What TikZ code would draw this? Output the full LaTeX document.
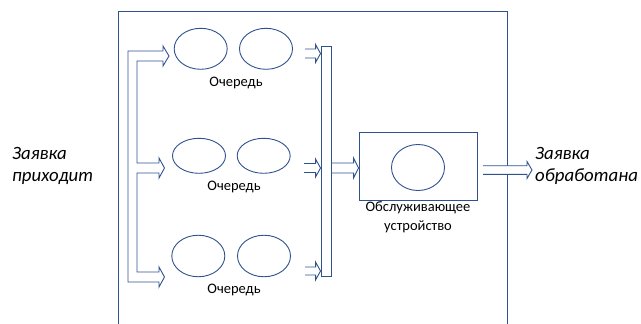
\documentclass[tikz,border=0pt]{standalone}
\usepackage{fontspec}
\setmainfont{Carlito}
\usetikzlibrary{calc,shapes.geometric}
\definecolor{lineblue}{HTML}{2F528F}
\tikzset{
  bl/.style={draw=lineblue, line width=0.9pt, line join=miter},
  qell/.style={bl, ellipse, inner sep=0pt, minimum width=53pt},
  lbl/.style={font=\fontsize{14.5}{19}\selectfont, inner sep=0pt, align=center},
  side/.style={font=\fontsize{18.8}{21.5}\selectfont\itshape, inner sep=0pt, align=left, anchor=west},
}
\newcommand\harrow[5][]{%
  \draw[bl,#1] let \p1=(#2), \p2=(#3) in
    (\x1,\y2+#4) -- (\x2-5pt,\y2+#4) -- (\x2-5pt,\y2+#5) -- (\x2,\y2)
    -- (\x2-5pt,\y2-#5) -- (\x2-5pt,\y2-#4) -- (\x1,\y2-#4);}
\begin{document}
\begin{tikzpicture}[x=1pt,y=-1pt]
\useasboundingbox (0,0) rectangle (641,324);
% outer frame (open at the bottom)
\draw[bl] (118,326) -- (118,11.5) -- (507,11.5) -- (507,326);
% queue ellipses
\node[qell, minimum height=41pt] (a1) at (200.7,48.8) {};
\node[qell, minimum height=41pt] (a2) at (266,48.8) {};
\node[lbl] (la) at (236,83) {Очередь};
\node[qell, minimum height=35pt] (b1) at (199,155.8) {};
\node[qell, minimum height=35pt] (b2) at (263.7,155.8) {};
\node[lbl] (lb) at (234,186.5) {Очередь};
\node[qell, minimum height=41.5pt] (c1) at (198.3,256) {};
\node[qell, minimum height=41.5pt] (c2) at (264,256) {};
\node[lbl] (lc) at (234,290) {Очередь};
% left branched input arrow
\draw[bl] (128,51) -- (163,51) -- (163,46) -- (169,56) -- (163,66) -- (163,61)
  -- (137,61) -- (137,163) -- (159,163) -- (159,158) -- (164.5,168) -- (159,178)
  -- (159,173) -- (137,173) -- (137,272) -- (159,272) -- (159,267) -- (164.5,277)
  -- (159,287) -- (159,282) -- (128,282) -- cycle;
% right collecting bus
\node[bl, minimum width=10pt, minimum height=230pt, inner sep=0pt] (rbus) at (326,161) {};
\coordinate (ta) at (305,53.5);
\coordinate (tb) at (304,168);
\coordinate (tc) at (305,271);
\harrow{ta}{rbus.west |- ta}{4.5pt}{9pt}
\harrow{tb}{rbus.west |- tb}{4.5pt}{9pt}
\harrow{tc}{rbus.west |- tc}{4pt}{9pt}
% server
\node[bl, minimum width=118pt, minimum height=68pt, inner sep=0pt] (srv) at (418,166) {};
\node[qell, minimum height=46pt] (se) at (418,167.5) {};
\node[lbl] (ls) at (418,217.5) {Обслуживающее\\устройство};
\coordinate (sin) at (srv.west |- 0,168);
\harrow{rbus.east |- sin}{sin}{5pt}{10pt}
% output arrow
\coordinate (oa) at (483,170);
\coordinate (ob) at (532,170);
\harrow[fill=white]{oa}{ob}{4.3pt}{8.5pt}
% side texts
\node[side] (inp) at (12,166) {Заявка\\приходит};
\node[side] (outp) at (535,166) {Заявка\\обработана};
\end{tikzpicture}
\end{document}
